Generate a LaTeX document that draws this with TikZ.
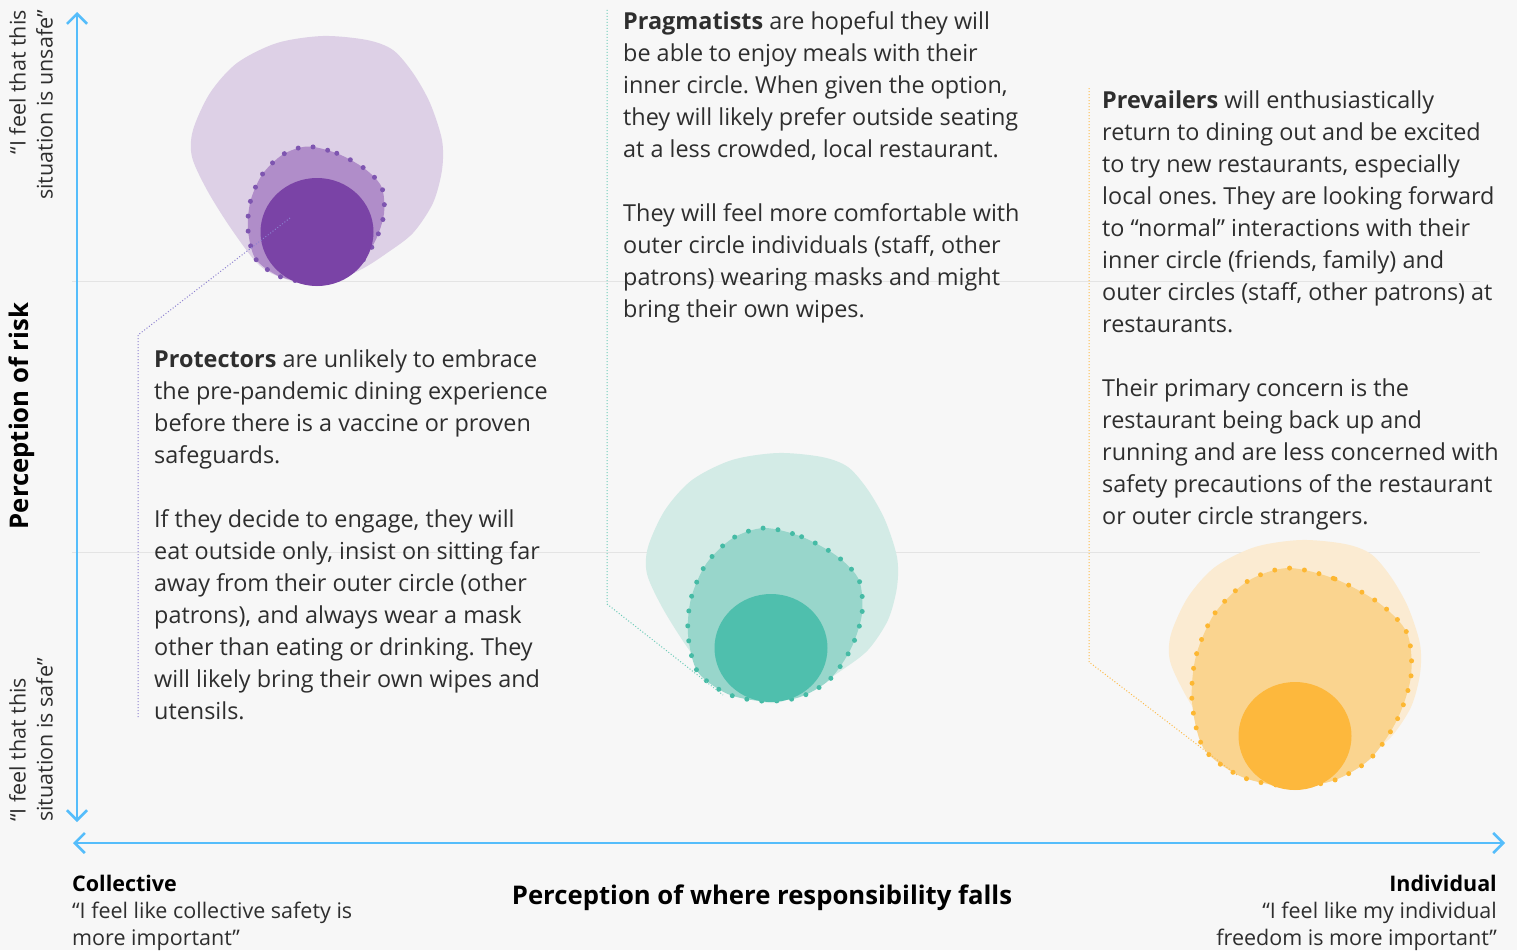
\documentclass[tikz,border=0pt]{standalone}
\usepackage{fontspec}
\setmainfont{Open Sans}
\frenchspacing
\usetikzlibrary{positioning,arrows.meta,shapes.geometric}
\definecolor{bg}{HTML}{F7F7F7}
\definecolor{axisblue}{HTML}{55BDFB}
\definecolor{gridgray}{HTML}{E4E4E4}
\definecolor{bodytext}{HTML}{2E2E2E}
\definecolor{protouter}{HTML}{DDD0E6}
\definecolor{protmid}{HTML}{B08DC9}
\definecolor{protdot}{HTML}{7E55B0}
\definecolor{protcore}{HTML}{7A43A6}
\definecolor{protline}{HTML}{8C80D0}
\definecolor{pragouter}{HTML}{D3EBE6}
\definecolor{pragmid}{HTML}{98D6CB}
\definecolor{pragdot}{HTML}{45BBA5}
\definecolor{pragcore}{HTML}{4FBFAD}
\definecolor{pragline}{HTML}{6CCBB8}
\definecolor{prevouter}{HTML}{FBEBD2}
\definecolor{prevmid}{HTML}{FAD48F}
\definecolor{prevdot}{HTML}{FDB731}
\definecolor{prevcore}{HTML}{FDB83D}
\definecolor{prevline}{HTML}{FDBB4A}
\newcommand{\blobouter}{plot[smooth cycle] coordinates {(7,-124.5) (51,-120.5) (77,-110.5) (97,-87.5)
  (114,-57.5) (126,-20.5) (126,9.5) (117,42.5) (97,72.5) (71,92.5) (44,109.5) (4,125.5) (-36,116.5)
  (-59,102.5) (-86,66.5) (-109,29.5) (-124,-3.5) (-123,-30.5) (-106,-67.5) (-79,-97.5) (-39,-117.5)}}
\newcommand{\blobmiddle}{plot[smooth cycle] coordinates {(-0.062,-0.5) (0.153,-0.45) (0.354,-0.34)
  (0.482,-0.203) (0.5,-0.007) (0.436,0.194) (0.313,0.372) (0.139,0.473) (-0.066,0.495) (-0.272,0.454)
  (-0.445,0.326) (-0.5,0.112) (-0.482,-0.098) (-0.395,-0.295) (-0.244,-0.441)}}
\tikzset{
  axis/.style={draw=axisblue,line width=2.6pt,arrows={Straight Barb[length=10pt,width=20pt]-Straight Barb[length=10pt,width=20pt]}},
  gridline/.style={draw=gridgray,line width=1pt},
  dotring/.style={draw=#1,line width=5pt,line cap=round,dash pattern=on 0pt off 15pt},
  leader/.style={draw=#1,line width=1pt,dash pattern=on 1pt off 2pt},
  core/.style={shape=ellipse,minimum width=113pt,minimum height=108pt,inner sep=0pt,fill=#1},
  body/.style={align=left,inner sep=0pt,anchor=north west,text=bodytext,font=\fontsize{23.4}{32}\selectfont},
  quote/.style={inner sep=0pt,text=bodytext,font=\fontsize{21.5}{27}\selectfont},
  title/.style={inner sep=0pt,text=black,font=\bfseries\fontsize{25.7}{30}\selectfont}
}
\begin{document}
\begin{tikzpicture}[x=1pt,y=-1pt]
  \useasboundingbox (0,0) rectangle (1517,950);
  \fill[bg] (0,0) rectangle (1517,950);
  % background lines
  \draw[gridline] (72,281) -- (1480,281);
  \draw[gridline] (72,552) -- (1480,552);
  % protectors
  \begin{scope}[shift={(316,160.5)}]
    \fill[protouter] \blobouter;
  \end{scope}
  \begin{scope}[shift={(316,214.5)},scale=136]
    \fill[protmid] \blobmiddle;
    \draw[dotring=protdot] \blobmiddle;
  \end{scope}
  \node[core=protcore] (prot-core) at (317,232) {};
  % pragmatists
  \begin{scope}[shift={(771,577.5)}]
    \fill[pragouter] \blobouter;
  \end{scope}
  \begin{scope}[shift={(775,615)},scale=174]
    \fill[pragmid] \blobmiddle;
    \draw[dotring=pragdot] \blobmiddle;
  \end{scope}
  \node[core=pragcore] (prag-core) at (771,648) {};
  % prevailers
  \begin{scope}[shift={(1294,664.5)}]
    \fill[prevouter] \blobouter;
  \end{scope}
  \begin{scope}[shift={(1301.5,677.5)},scale=219]
    \fill[prevmid] \blobmiddle;
    \draw[dotring=prevdot] \blobmiddle;
  \end{scope}
  \node[core=prevcore] (prev-core) at (1295,736) {};
  % leaders
  \coordinate (prot-pin) at (290,218);
  \coordinate (prot-bend) at (138,335);
  \coordinate (prot-end) at (138,718);
  \coordinate (prag-top) at (607,10);
  \coordinate (prag-bend) at (607,604);
  \coordinate (prag-pin) at (723,695);
  \coordinate (prev-top) at (1089,88);
  \coordinate (prev-bend) at (1089,662);
  \coordinate (prev-pin) at (1237,775);
  \draw[leader=protline] (prot-pin) -- (prot-bend) -- (prot-end);
  \draw[leader=pragline] (prag-top) -- (prag-bend) -- (prag-pin);
  \draw[leader=prevline] (prev-top) -- (prev-bend) -- (prev-pin);
  % texts
  \node[body] (prot-text) at (154,350) {\textbf{Protectors} are unlikely to embrace\\
    the pre-pandemic dining experience\\before there is a vaccine or proven\\safeguards.\\[32pt]
    If they decide to engage, they will\\eat outside only, insist on sitting far\\
    away from their outer circle (other\\patrons), and always wear a mask\\
    other than eating or drinking. They\\will likely bring their own wipes and\\utensils.};
  \node[body] (prag-text) at (623,11) {\textbf{Pragmatists} are hopeful they will\\
    be able to enjoy meals with their\\inner circle. When given the option,\\
    they will likely prefer outside seating\\at a less crowded, local restaurant.\\[32pt]
    They will feel more comfortable with\\outer circle individuals (staff, other\\
    patrons) wearing masks and might\\bring their own wipes.};
  \node[body] (prev-text) at (1102,91) {\textbf{Prevailers} will enthusiastically\\
    return to dining out and be excited\\to try new restaurants, especially\\
    local ones. They are looking forward\\to “normal” interactions with their\\
    inner circle (friends, family) and\\outer circles (staff, other patrons) at\\restaurants.\\[32pt]
    Their primary concern is the\\restaurant being back up and\\running and are less concerned with\\
    safety precautions of the restaurant\\or outer circle strangers.};
  % axes
  \coordinate (ytop) at (77,12);
  \coordinate (ybot) at (77,822);
  \coordinate (xleft) at (73,843);
  \coordinate (xright) at (1505,843);
  \draw[axis] (ybot) -- (ytop);
  \draw[axis] (xleft) -- (xright);
  \node[title,rotate=90] (risk-label) at (22,416) {Perception of risk};
  \node[title] (resp-label) at (762,898) {Perception of where responsibility falls};
  \node[quote,rotate=90,align=right,anchor=east] (unsafe-label) at (31,10) {“I feel that this\\situation is unsafe”};
  \node[quote,rotate=90,align=left,anchor=west] (safe-label) at (31,822) {“I feel that this\\situation is safe”};
  \node[quote,align=left,anchor=north west] (coll-label) at (72,875) {\textbf{\color{black}Collective}\\“I feel like collective safety is\\more important”};
  \node[quote,align=right,anchor=north east] (indiv-label) at (1497,875) {\textbf{\color{black}Individual}\\“I feel like my individual\\freedom is more important”};
\end{tikzpicture}
\end{document}
